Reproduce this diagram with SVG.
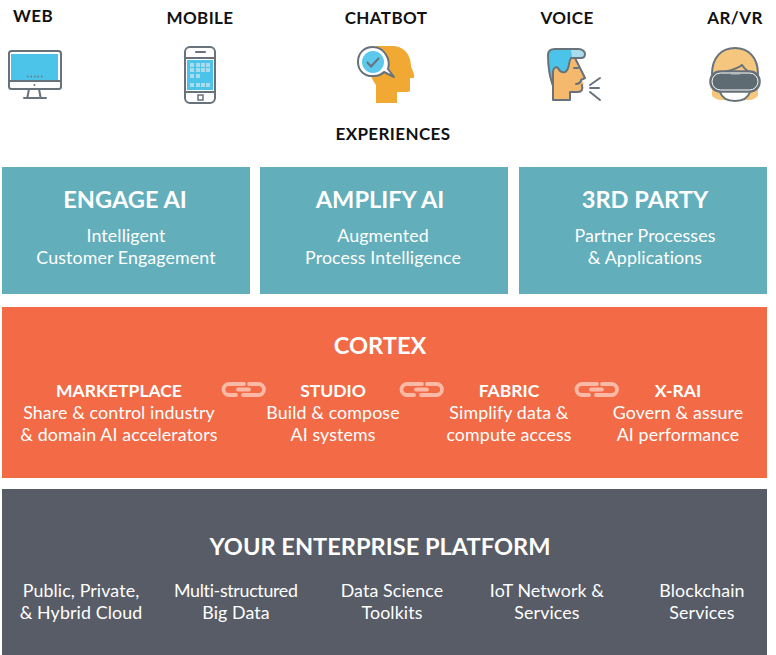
<svg xmlns="http://www.w3.org/2000/svg" width="776" height="655" viewBox="0 0 776 655">
<style>
text{font-family:"Lato","Open Sans","Liberation Sans",sans-serif;text-anchor:middle;fill:#fff}
.cap{font-size:17px;font-weight:700;fill:#111;letter-spacing:.4px}
.h{font-size:23.600px;font-weight:700}
.s{font-size:17.500px;font-weight:700}
.b{font-size:17.800px;letter-spacing:.12px}
.ic{fill:none;stroke:#67727a;stroke-width:2;stroke-linejoin:round;stroke-linecap:round}
.lnk{fill:none;stroke:#fbb9a6;stroke-width:3.800px;stroke-linecap:round}
.sq{fill:#a8dcec}
</style>
<rect width="776" height="655" fill="#fff"/>
<g id="web">
<text class="cap" x="33" y="22">WEB</text>
<rect x="9" y="51" width="52" height="38" rx="2.500" fill="#fff" stroke="#67727a" stroke-width="2"/>
<rect x="11" y="54" width="47" height="26" fill="#4cc3e8"/>
<path class="ic" d="M9 81H61M29 89L27.500 97M39 89L40.500 97M24 98H46"/>
<circle cx="34.500" cy="85" r="1" fill="#67727a"/>
<path d="M27 76.500h1.500M30.500 76.500h1.500M34 76.500h1.500M37.500 76.500h1.500M41 76.500h1.500" stroke="#67727a" stroke-width="1.500"/>
</g>
<g id="mobile">
<text class="cap" x="200" y="24">MOBILE</text>
<rect x="185" y="47" width="30" height="56" rx="5" fill="#fff" stroke="#67727a" stroke-width="2"/>
<rect x="187" y="60" width="26" height="30" fill="#4cc3e8"/>
<path class="ic" d="M185 58H215M185 92H215M196 52H205"/>
<rect x="198" y="95" width="5" height="5" fill="none" stroke="#67727a" stroke-width="1.500"/>
<g class="sq">
<rect x="190" y="63" width="4" height="4"/><rect x="196" y="63" width="4" height="4"/><rect x="201" y="63" width="4" height="4"/><rect x="206" y="63" width="4" height="4"/>
<rect x="190" y="68" width="4" height="4"/><rect x="196" y="68" width="4" height="4"/><rect x="201" y="68" width="4" height="4"/><rect x="206" y="68" width="4" height="4"/>
<rect x="190" y="74" width="4" height="4"/><rect x="196" y="74" width="4" height="4"/>
<rect x="190" y="83" width="4" height="4"/><rect x="196" y="83" width="4" height="4"/><rect x="201" y="83" width="4" height="4"/><rect x="206" y="83" width="4" height="4"/>
</g>
</g>
<g id="chatbot">
<text class="cap" x="386" y="24">CHATBOT</text>
<path d="M376 46H392C405 46 411 56 411 66C412 70 415 74 414 78H410V90C410 92 408 92 406 92H397V103H376V85C372 80 370 74 370 66Z" fill="#f2a933"/>
<path d="M373 47C364 47 358 53 358 62C358 71 365 77 374 76C378 76 382 74 384 72L394 77L388 69C391 59 384 47 373 47Z" fill="#fff" stroke="#67727a" stroke-width="2" stroke-linejoin="round"/>
<circle cx="373" cy="62" r="11" fill="#5cc8ec"/>
<path d="M367 62L371 66.500L379 58" fill="none" stroke="#67727a" stroke-width="2"/>
</g>
<g id="voice">
<text class="cap" x="567" y="24">VOICE</text>
<path d="M553 67V100H570V92H578C582 92 583 89 582 85L584 84L581 80L585 78L578 66L575 58H558Z" fill="#f5b96e"/>
<path d="M548 55C548 51 551 49 555 49H578C583 49 585 52 585 54C585 57 583 58 581 58H571C568 62 570 70 565 72C561 73 559 70 558 68C556 66 553 68 553 72V86C550 80 548 70 548 55Z" fill="#4cc3e8"/>
<path d="M571 49H578C583 49 585 52 585 54C585 57 583 58 581 58H572Z" fill="#a8dcec"/>
<path class="ic" d="M553 86C550 78 548 70 548 55C548 51 551 49 555 49H578C583 49 585 52 585 54C585 57 583 58 581 58H571C568 62 570 70 565 72C561 73 559 70 558 68C556 66 553 68 553 72V100H570V92H578C582 92 583 89 582 85M575 58L585 78L581 80M574 68H578M576 84C578 84 580 83 581 81"/>
<path class="ic" d="M600 78L590 85M599 88H590M600 100L590 92"/>
</g>
<g id="arvr">
<text class="cap" x="735" y="24">AR/VR</text>
<path d="M712 72C712 57 722 48 735 48C748 48 758 57 758 72V96C754 100 750 100 748 100H722C720 100 716 100 712 96Z" fill="#f5c77e"/>
<path d="M720 92H750C748 99 741 101 735 101C729 101 722 99 720 92Z" fill="#fff"/>
<path d="M712 74C712 57 722 48 735 48C748 48 758 57 758 74M720 92C722 98 728 101 735 101C742 101 748 98 750 92M716 74C726 71 737 70 742 65C744 68 747 72 754 74" class="ic"/>
<rect x="710" y="71" width="50" height="21" rx="10" fill="#5f6b72" stroke="#67727a" stroke-width="1.500"/>
<rect x="712" y="73" width="46" height="17" rx="8.500" fill="none" stroke="#fff" stroke-width="1"/>
<rect x="731" y="72" width="9" height="2.500" fill="#b5bcc0"/>
</g>
<text class="cap" x="393" y="140">EXPERIENCES</text>
<g id="engage">
<rect x="2" y="167" width="248" height="127" fill="#62aebb"/>
<text class="h" x="125" y="208">ENGAGE AI</text>
<text class="b" x="126" y="242">Intelligent</text>
<text class="b" x="126" y="264">Customer Engagement</text>
</g>
<g id="amplify">
<rect x="260" y="167" width="248" height="127" fill="#62aebb"/>
<text class="h" x="380" y="208">AMPLIFY AI</text>
<text class="b" x="383" y="242">Augmented</text>
<text class="b" x="383" y="264">Process Intelligence</text>
</g>
<g id="third">
<rect x="519" y="167" width="248" height="127" fill="#62aebb"/>
<text class="h" x="645" y="208">3RD PARTY</text>
<text class="b" x="645" y="242">Partner Processes</text>
<text class="b" x="645" y="264">&amp; Applications</text>
</g>
<g id="cortex">
<rect x="2" y="307" width="765" height="171" fill="#f26a46"/>
<text class="h" x="380" y="354">CORTEX</text>
</g>
<g id="marketplace">
<text class="s" x="119" y="397">MARKETPLACE</text>
<text class="b" x="119" y="419">Share &amp; control industry</text>
<text class="b" x="119" y="441">&amp; domain AI accelerators</text>
</g>
<g id="studio">
<text class="s" x="333" y="397">STUDIO</text>
<text class="b" x="333" y="419">Build &amp; compose</text>
<text class="b" x="333" y="441">AI systems</text>
</g>
<g id="fabric">
<text class="s" x="509" y="397">FABRIC</text>
<text class="b" x="509" y="419">Simplify data &amp;</text>
<text class="b" x="509" y="441">compute access</text>
</g>
<g id="xrai">
<text class="s" x="678" y="397">X-RAI</text>
<text class="b" x="678" y="419">Govern &amp; assure</text>
<text class="b" x="678" y="441">AI performance</text>
</g>
<g id="connectors">
<path id="l1" class="lnk" d="M244 384H229A5.500 5.500 0 0 0 229 395H236M238 389.500H249M249 384H258.500A5.500 5.500 0 0 1 258.500 395H243"/>
<path id="l2" class="lnk" d="M422 384H407A5.500 5.500 0 0 0 407 395H414M416 389.500H427M427 384H436.500A5.500 5.500 0 0 1 436.500 395H421"/>
<path id="l3" class="lnk" d="M597 384H582A5.500 5.500 0 0 0 582 395H589M591 389.500H602M602 384H611.500A5.500 5.500 0 0 1 611.500 395H596"/>
</g>
<g id="platform">
<rect x="2" y="489" width="765" height="166" fill="#575c66"/>
<text class="h" x="380" y="555">YOUR ENTERPRISE PLATFORM</text>
<text class="b" x="81" y="597">Public, Private,</text>
<text class="b" x="81" y="619">&amp; Hybrid Cloud</text>
<text class="b" x="236" y="597" textLength="124" lengthAdjust="spacing">Multi-structured</text>
<text class="b" x="236" y="619">Big Data</text>
<text class="b" x="392" y="597">Data Science</text>
<text class="b" x="392" y="619">Toolkits</text>
<text class="b" x="547" y="597">IoT Network &amp;</text>
<text class="b" x="547" y="619">Services</text>
<text class="b" x="702" y="597">Blockchain</text>
<text class="b" x="702" y="619">Services</text>
</g>
</svg>
